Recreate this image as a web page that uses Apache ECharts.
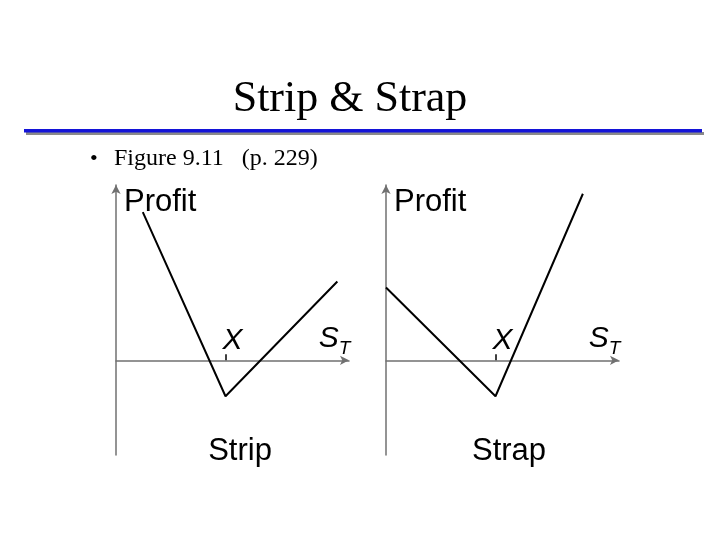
<!DOCTYPE html>
<html>
<head>
<meta charset="utf-8">
<script src="https://cdn.jsdelivr.net/npm/echarts@6/dist/echarts.min.js"></script>
<style>
html,body{margin:0;padding:0;background:#fff;}
#main{width:720px;height:540px;}
</style>
</head>
<body>
<div id="main"></div>
<script>
// payoff points: [S_T, profit]
var stripPoints = [[1.15, 8.45], [4.7, -2.05], [9.5, 4.5]];
var strapPoints = [[0, 4.15], [4.7, -2.05], [8.45, 9.5]];
var strikeX = 4.7;
var stLabelX = 9.38;
var chartNames = ['Strip', 'Strap'];
var gridLefts = [116, 386];

var sansFont = 'Liberation Sans';
var serifFont = 'Liberation Serif';

function makeXAxis(i){
    return {
        type: 'value', gridIndex: i, min: 0, max: 10,
        splitLine: {show: false},
        axisLabel: {show: false},
        axisLine: {onZero: true, symbol: ['none', 'arrow'], symbolSize: [7, 9],
            lineStyle: {color: '#707070', width: 1.5}},
        axisTick: {show: true, customValues: [strikeX], inside: true, length: 6,
            lineStyle: {color: '#000', width: 1.5}}
    };
}
function makeYAxis(i){
    return {
        type: 'value', gridIndex: i, min: -5.4, max: 10,
        splitLine: {show: false},
        axisTick: {show: false},
        axisLabel: {show: false},
        axisLine: {onZero: true, symbol: ['none', 'arrow'], symbolSize: [7, 9],
            lineStyle: {color: '#707070', width: 1.5}},
        name: 'Profit',
        nameLocation: 'end',
        nameGap: -17,
        nameTextStyle: {fontFamily: sansFont, fontSize: 31, color: '#000',
            align: 'left', verticalAlign: 'middle', padding: [0, 0, 0, 8]}
    };
}
// "X" and "S_T" written just above the price axis
function makeAxisTextSeries(i){
    return [
        {type: 'scatter', xAxisIndex: i, yAxisIndex: i, data: [[strikeX, 0]],
            symbolSize: 0, silent: true, itemStyle: {opacity: 1},
            label: {show: true, position: 'top', distance: 5, offset: [7, 0], formatter: 'X',
                fontFamily: sansFont, fontStyle: 'italic', fontSize: 30, color: '#000', opacity: 1}},
        {type: 'scatter', xAxisIndex: i, yAxisIndex: i, data: [[stLabelX, 0]],
            symbolSize: 0, silent: true, itemStyle: {opacity: 1},
            label: {show: true, position: 'top', distance: 2, formatter: '{s|S}{t|T}', opacity: 1,
                rich: {
                    s: {fontFamily: sansFont, fontStyle: 'italic', fontSize: 30, color: '#000'},
                    t: {fontFamily: sansFont, fontStyle: 'italic', fontSize: 19, color: '#000', padding: [20, 0, 0, 0]}
                }}}
    ];
}

var chart = echarts.init(document.getElementById('main'));
var option = {
    backgroundColor: '#fff',
    animation: false,
    title: [
        {text: 'Strip & Strap', left: 345, top: 72, textAlign: 'center',
            textStyle: {fontFamily: serifFont, fontWeight: 'normal', fontSize: 44, color: '#000'}},
        {text: '•', left: 85, top: 143,
            textStyle: {fontFamily: serifFont, fontWeight: 'normal', fontSize: 22, color: '#000'}},
        {text: 'Figure 9.11   (p. 229)', left: 109, top: 142,
            textStyle: {fontFamily: serifFont, fontWeight: 'normal', fontSize: 24, color: '#000'}},
        {text: chartNames[0], left: 235, top: 431, textAlign: 'center',
            textStyle: {fontFamily: sansFont, fontWeight: 'normal', fontSize: 31, color: '#000'}},
        {text: chartNames[1], left: 504, top: 431, textAlign: 'center',
            textStyle: {fontFamily: sansFont, fontWeight: 'normal', fontSize: 31, color: '#000'}}
    ],
    graphic: [
        {type: 'rect', shape: {x: 26, y: 132, width: 678, height: 3}, style: {fill: '#8a8a8a'}, silent: true},
        {type: 'rect', shape: {x: 24, y: 129, width: 678, height: 3.5}, style: {fill: '#1414d8'}, silent: true}
    ],
    grid: [
        {left: gridLefts[0], top: 185, width: 233, height: 270},
        {left: gridLefts[1], top: 185, width: 233, height: 270}
    ],
    xAxis: [makeXAxis(0), makeXAxis(1)],
    yAxis: [makeYAxis(0), makeYAxis(1)],
    series: [
        {name: chartNames[0], type: 'line', xAxisIndex: 0, yAxisIndex: 0, data: stripPoints,
            symbol: 'none', lineStyle: {color: '#000', width: 2}},
        {name: chartNames[1], type: 'line', xAxisIndex: 1, yAxisIndex: 1, data: strapPoints,
            symbol: 'none', lineStyle: {color: '#000', width: 2}}
    ].concat(makeAxisTextSeries(0), makeAxisTextSeries(1))
};
chart.setOption(option);
</script>
</body>
</html>
